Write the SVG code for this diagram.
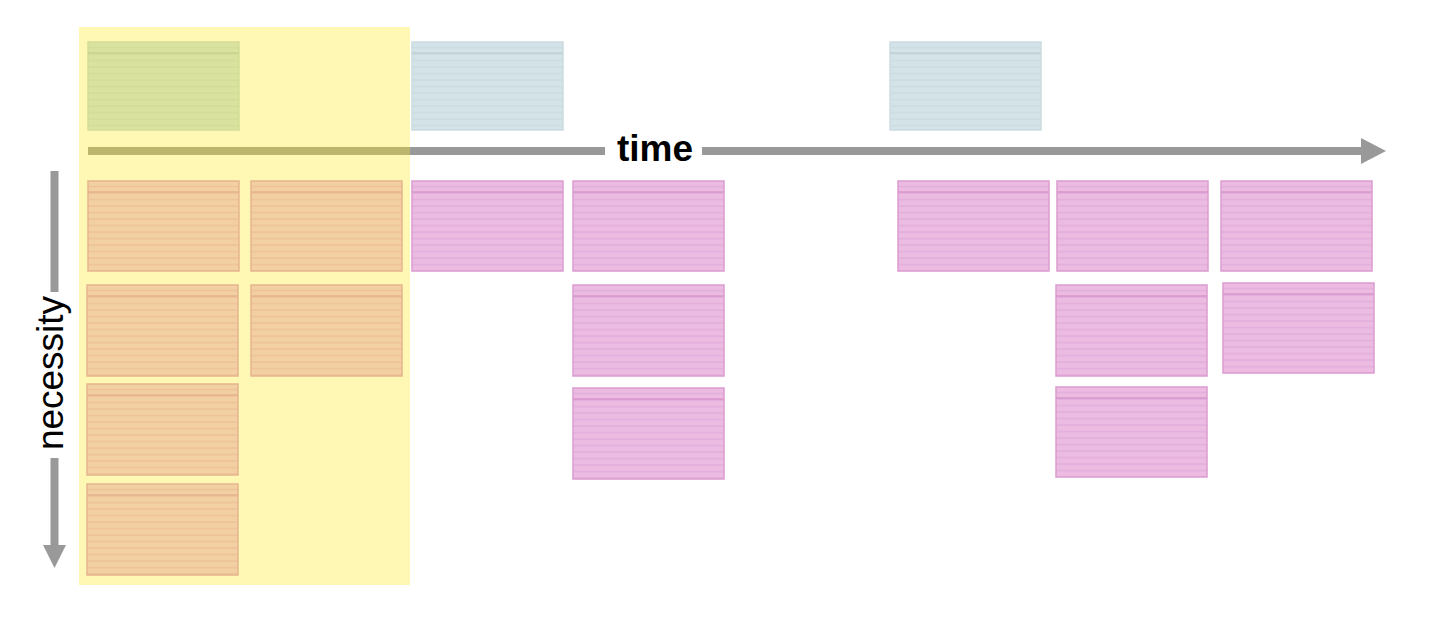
<svg xmlns="http://www.w3.org/2000/svg" width="1444" height="644" viewBox="0 0 1444 644">
  <defs>
    <style>
      .axis { stroke: #999999; stroke-width: 8; fill: none; }
      .axis-in { stroke: #bcb56c; stroke-width: 8; fill: none; }
      .head { fill: #999999; }
      .lbl { font-family: "Liberation Sans", Arial, sans-serif; fill: #000; }
      .card { stroke-width: 1.5; }
      .pink .card { fill: url(#pp); stroke: #dc9cd0; }
      .pink .top { stroke: #d996cc; }
      .orange .card { fill: url(#po); stroke: #e6b48e; }
      .orange .top { stroke: #e6b28e; }
      .green .card { fill: url(#pg); stroke: #d3dc96; }
      .green .top { stroke: #cad28e; }
      .blue .card { fill: url(#pb); stroke: #cbdce1; }
      .blue .top { stroke: #bfd1d6; }
      .top { stroke-width: 1.5; }
    </style>
    <pattern id="pp" patternUnits="userSpaceOnUse" x="0" y="0" width="200" height="6.5">
      <rect width="200" height="6.5" fill="#ebbbe2"/>
      <rect y="4.8" width="200" height="1.6" fill="#e3aedb"/>
    </pattern>
    <pattern id="po" patternUnits="userSpaceOnUse" x="0" y="0" width="200" height="6.5">
      <rect width="200" height="6.5" fill="#f3d0a2"/>
      <rect y="4.8" width="200" height="1.6" fill="#eec299"/>
    </pattern>
    <pattern id="pg" patternUnits="userSpaceOnUse" x="0" y="0" width="200" height="6.5">
      <rect width="200" height="6.5" fill="#d9e39f"/>
      <rect y="4.8" width="200" height="1.6" fill="#d3dd97"/>
    </pattern>
    <pattern id="pb" patternUnits="userSpaceOnUse" x="0" y="0" width="200" height="6.5">
      <rect width="200" height="6.5" fill="#d3e3e8"/>
      <rect y="4.8" width="200" height="1.6" fill="#cbdde2"/>
    </pattern>
  </defs>

  <rect width="1444" height="644" fill="#ffffff"/>

  <g id="highlight">
    <rect x="79" y="27" width="331" height="558" fill="#fef8b4"/>
  </g>

  <g id="connectors">
    <g id="time-axis">
      <line class="axis-in" x1="88" y1="151" x2="410" y2="151"/>
      <line class="axis" x1="410" y1="151" x2="605" y2="151"/>
      <line class="axis" x1="702" y1="151" x2="1362" y2="151"/>
      <polygon class="head" points="1361,138 1386,151 1361,164"/>
    </g>
    <g id="necessity-axis">
      <line class="axis" x1="54.5" y1="171" x2="54.5" y2="292"/>
      <line class="axis" x1="54.5" y1="458" x2="54.5" y2="546"/>
      <polygon class="head" points="43,545 66,545 54.5,568"/>
    </g>
  </g>

  <g id="labels">
    <text class="lbl" x="655" y="161" font-size="37" font-weight="bold" text-anchor="middle">time</text>
    <text class="lbl" transform="translate(63,373) rotate(-90)" font-size="37" text-anchor="middle">necessity</text>
  </g>

  <g id="card-green-1" class="green" transform="translate(88,42)">
    <rect class="card" width="151" height="88"/>
    <line class="top" x1="0" y1="11" x2="151" y2="11"/>
  </g>
  <g id="card-blue-1" class="blue" transform="translate(412,42)">
    <rect class="card" width="151" height="88"/>
    <line class="top" x1="0" y1="11" x2="151" y2="11"/>
  </g>
  <g id="card-blue-2" class="blue" transform="translate(890,42)">
    <rect class="card" width="151" height="88"/>
    <line class="top" x1="0" y1="11" x2="151" y2="11"/>
  </g>

  <g id="card-orange-1" class="orange" transform="translate(88,181)">
    <rect class="card" width="151" height="90"/>
    <line class="top" x1="0" y1="11" x2="151" y2="11"/>
  </g>
  <g id="card-orange-2" class="orange" transform="translate(251,181)">
    <rect class="card" width="151" height="90"/>
    <line class="top" x1="0" y1="11" x2="151" y2="11"/>
  </g>
  <g id="card-orange-3" class="orange" transform="translate(87,285)">
    <rect class="card" width="151" height="91"/>
    <line class="top" x1="0" y1="11" x2="151" y2="11"/>
  </g>
  <g id="card-orange-4" class="orange" transform="translate(251,285)">
    <rect class="card" width="151" height="91"/>
    <line class="top" x1="0" y1="11" x2="151" y2="11"/>
  </g>
  <g id="card-orange-5" class="orange" transform="translate(87,384)">
    <rect class="card" width="151" height="91"/>
    <line class="top" x1="0" y1="11" x2="151" y2="11"/>
  </g>
  <g id="card-orange-6" class="orange" transform="translate(87,484)">
    <rect class="card" width="151" height="91"/>
    <line class="top" x1="0" y1="11" x2="151" y2="11"/>
  </g>

  <g id="card-pink-1" class="pink" transform="translate(412,181)">
    <rect class="card" width="151" height="90"/>
    <line class="top" x1="0" y1="11" x2="151" y2="11"/>
  </g>
  <g id="card-pink-2" class="pink" transform="translate(573,181)">
    <rect class="card" width="151" height="90"/>
    <line class="top" x1="0" y1="11" x2="151" y2="11"/>
  </g>
  <g id="card-pink-3" class="pink" transform="translate(573,285)">
    <rect class="card" width="151" height="91"/>
    <line class="top" x1="0" y1="11" x2="151" y2="11"/>
  </g>
  <g id="card-pink-4" class="pink" transform="translate(573,388)">
    <rect class="card" width="151" height="91"/>
    <line class="top" x1="0" y1="11" x2="151" y2="11"/>
  </g>
  <g id="card-pink-5" class="pink" transform="translate(898,181)">
    <rect class="card" width="151" height="90"/>
    <line class="top" x1="0" y1="11" x2="151" y2="11"/>
  </g>
  <g id="card-pink-6" class="pink" transform="translate(1057,181)">
    <rect class="card" width="151" height="90"/>
    <line class="top" x1="0" y1="11" x2="151" y2="11"/>
  </g>
  <g id="card-pink-7" class="pink" transform="translate(1221,181)">
    <rect class="card" width="151" height="90"/>
    <line class="top" x1="0" y1="11" x2="151" y2="11"/>
  </g>
  <g id="card-pink-8" class="pink" transform="translate(1056,285)">
    <rect class="card" width="151" height="91"/>
    <line class="top" x1="0" y1="11" x2="151" y2="11"/>
  </g>
  <g id="card-pink-9" class="pink" transform="translate(1223,283)">
    <rect class="card" width="151" height="90"/>
    <line class="top" x1="0" y1="11" x2="151" y2="11"/>
  </g>
  <g id="card-pink-10" class="pink" transform="translate(1056,387)">
    <rect class="card" width="151" height="90"/>
    <line class="top" x1="0" y1="11" x2="151" y2="11"/>
  </g>
</svg>
